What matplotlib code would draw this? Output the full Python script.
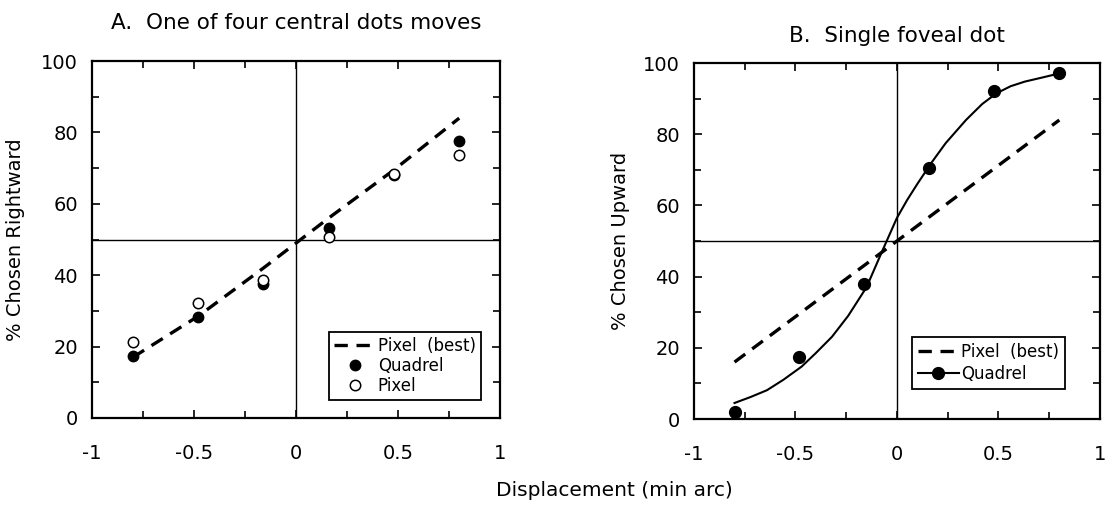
import matplotlib
matplotlib.use("Agg")
import matplotlib.pyplot as plt
from matplotlib.ticker import MultipleLocator

# Displacements tested (min arc)
displacement = [-0.8, -0.48, -0.16, 0.16, 0.48, 0.8]

# Panel A: one of four central dots moves
a_quadrel = [17.3, 28.3, 37.6, 53.1, 68.2, 77.7]
a_pixel = [21.3, 32.3, 38.7, 50.8, 68.4, 73.7]
a_pixel_best = [17.0, 28.5, 42.0, 56.0, 69.5, 84.0]

# Panel B: single foveal dot
b_quadrel = [2.0, 17.3, 37.9, 70.6, 92.3, 97.3]
b_pixel_best_x = [-0.8, 0.8]
b_pixel_best_y = [16.0, 84.0]

# Fitted curve through the quadrel data
b_fit_x = [-0.8, -0.72, -0.64, -0.56, -0.47, -0.4, -0.32, -0.24, -0.15, -0.07,
           0.0, 0.05, 0.1, 0.17, 0.24, 0.34, 0.42, 0.49, 0.56, 0.63, 0.72, 0.8]
b_fit_y = [4.5, 6.2, 8.1, 11.0, 14.7, 18.5, 23.1, 29.0, 37.0, 47.5,
           56.5, 61.5, 66.0, 72.0, 77.5, 84.0, 88.5, 91.5, 93.5, 94.8, 96.0, 97.1]

x_ticks = [-1, -0.5, 0, 0.5, 1]
x_tick_labels = ["-1", "-0.5", "0", "0.5", "1"]

plt.rcParams['font.family'] = ['DejaVu Sans']
DASHES = (4, 2.6)


def style_axes(ax, ylabel, ylabel_x):
    ax.set_xlim(-1, 1)
    ax.set_ylim(0, 100)
    ax.set_xticks(x_ticks)
    ax.set_xticklabels(x_tick_labels)
    ax.set_yticks([0, 20, 40, 60, 80, 100])
    ax.xaxis.set_minor_locator(MultipleLocator(0.25))
    ax.yaxis.set_minor_locator(MultipleLocator(10))
    ax.tick_params(which='both', direction='in', top=True, right=True,
                   width=1.2, labelsize=14)
    ax.tick_params(which='major', length=6)
    ax.tick_params(which='minor', length=5)
    ax.tick_params(axis='x', pad=19)
    ax.tick_params(axis='y', pad=10)
    for s in ax.spines.values():
        s.set_linewidth(1.6)

    # Reference lines at chance / zero displacement
    ax.axhline(50, color='black', lw=1.0, zorder=1)
    ax.axvline(0, color='black', lw=1.0, zorder=1)

    ax.set_ylabel(ylabel, fontsize=14)
    ax.yaxis.set_label_coords(ylabel_x, 0.5)


def legend_frame(leg):
    frame = leg.get_frame()
    frame.set_edgecolor('black')
    frame.set_linewidth(1.3)
    frame.set_boxstyle('square', pad=0)


fig = plt.figure(figsize=(11.05, 5.32), dpi=100)
ax_a = fig.add_axes([0.0833, 0.2143, 0.3692, 0.671])
ax_b = fig.add_axes([0.628, 0.2124, 0.3674, 0.669])

# ---- Panel A ----
style_axes(ax_a, "% Chosen Rightward", -0.165)
ax_a.plot(displacement, a_pixel_best, color='black', lw=2.4, dashes=DASHES,
          label="Pixel  (best)", zorder=2)
ax_a.plot(displacement, a_quadrel, 'o', color='black', ms=7.5, ls='none',
          label="Quadrel", zorder=3)
ax_a.plot(displacement, a_pixel, 'o', mfc='white', mec='black', mew=1.1, ms=7.5,
          ls='none', label="Pixel", zorder=4)
ax_a.set_title("A.  One of four central dots moves", fontsize=15.5, pad=23)
leg = ax_a.legend(loc='lower right', bbox_to_anchor=(0.973, 0.028), fontsize=12,
                  handlelength=2.5, handletextpad=0.1, borderpad=0.3,
                  labelspacing=0.1, fancybox=False, framealpha=1)
legend_frame(leg)

# ---- Panel B ----
style_axes(ax_b, "% Chosen Upward", -0.157)
ax_b.plot(b_pixel_best_x, b_pixel_best_y, color='black', lw=2.4, dashes=DASHES,
          label="Pixel  (best)", zorder=2)
ax_b.plot(b_fit_x, b_fit_y, color='black', lw=1.5, zorder=3)
ax_b.plot(displacement, b_quadrel, 'o', color='black', ms=8.5, ls='none', zorder=4)
# proxy handle: line with marker for the legend
ax_b.plot([], [], '-o', color='black', lw=1.5, ms=8.5, label="Quadrel")
ax_b.set_title("B.  Single foveal dot", fontsize=15.5, pad=15)
leg = ax_b.legend(loc='lower right', bbox_to_anchor=(0.934, 0.062), fontsize=12,
                  handlelength=2.5, handletextpad=0.1, borderpad=0.35,
                  labelspacing=0.25, fancybox=False, framealpha=1)
legend_frame(leg)

fig.text(614 / 1105, 1 - 490 / 532, "Displacement (min arc)", fontsize=14.5,
         ha='center', va='center')

fig.savefig("out.png", dpi=100)
